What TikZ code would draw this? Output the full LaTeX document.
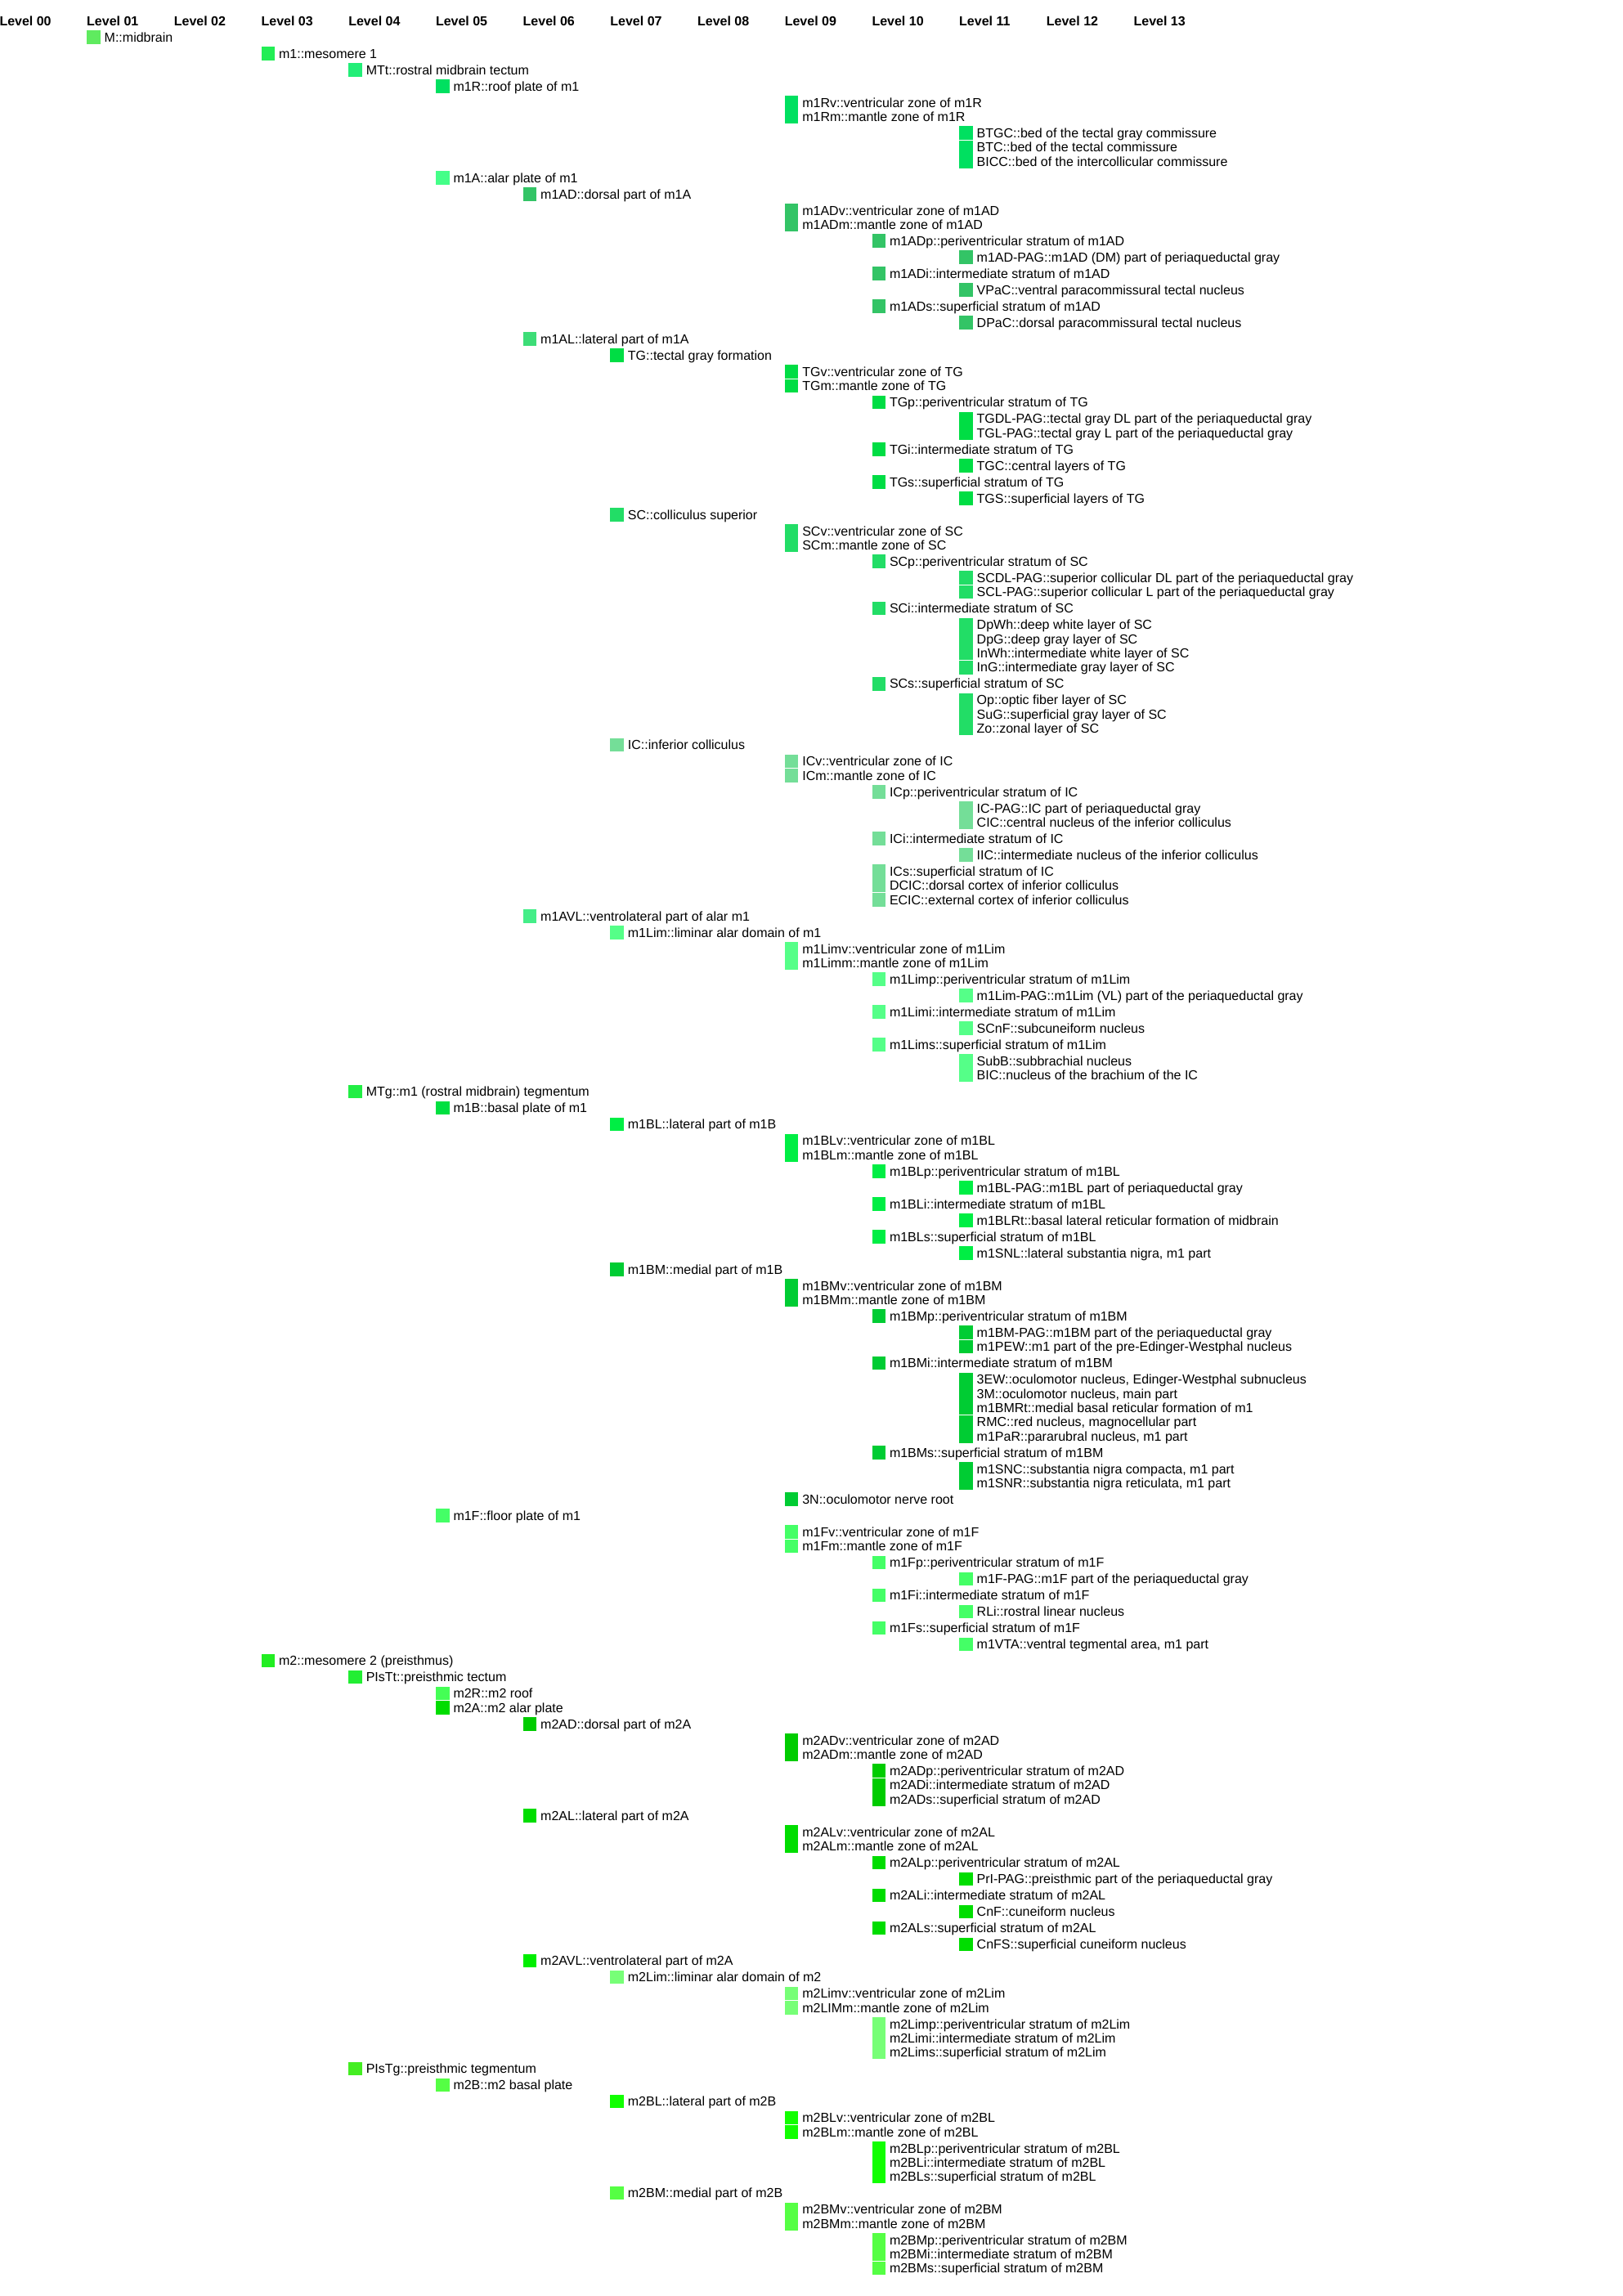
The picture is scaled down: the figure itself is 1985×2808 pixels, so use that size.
\documentclass[tikz,border=0pt]{standalone}
\usepackage{fontspec}
\setmainfont{Liberation Sans}
\newdimen\rowy
\global\rowy=25.3pt
\tikzset{
  boxst/.style={draw=none, inner sep=0pt, outer sep=0pt, minimum width=16.5pt},
  lbl/.style={anchor=base west, inner sep=0pt, outer sep=0pt, font=\fontsize{16}{19}\selectfont, text=black},
  hdr/.style={anchor=base west, inner sep=0pt, outer sep=0pt, font=\fontsize{16}{19}\selectfont\bfseries, text=black}
}
% #1 name, #2 level, #3 HTML colour, #4 n = new row, g = merged continuation, s = separate continuation, #5 text
\newcommand\itm[5]{%
  \if#4n\global\advance\rowy by 20pt\else\global\advance\rowy by 17.35pt\fi
  \pgfmathsetmacro\ry{\rowy}%
  \pgfmathsetmacro\bxx{106.7*#2-0.5}%
  \pgfmathsetmacro\txx{106.7*#2+21}%
  \definecolor{cur}{HTML}{#3}%
  \if#4g\pgfmathsetmacro\btt{\ry-9.1}\else\pgfmathsetmacro\btt{\ry-8.35}\fi
  \pgfmathsetmacro\bhh{\ry+8.35-\btt}%
  \node[boxst, fill=cur, minimum height=\bhh pt, anchor=north west] (t-#1b) at ({\bxx},{-\btt}) {};
  \node[lbl] (t-#1) at ({\txx},{-\ry-5.8}) {#5};
}
\begin{document}
\begin{tikzpicture}[x=1pt,y=1pt]
\fill[white] (0,0) rectangle (1985,-2808);
\useasboundingbox (0,0) rectangle (1985,-2808);
\foreach \i/\lab in {0/00,1/01,2/02,3/03,4/04,5/05,6/06,7/07,8/08,9/09,10/10,11/11,12/12,13/13}{
  \node[hdr] (h\lab) at ({106.7*\i-0.5},-31.5) {Level \lab};
}
\itm{M}{1}{5FEB5F}{n}{M::midbrain}
\itm{m1}{3}{22EE55}{n}{m1::mesomere 1}
\itm{MTt}{4}{22EE77}{n}{MTt::rostral midbrain tectum}
\itm{m1R}{5}{00E060}{n}{m1R::roof plate of m1}
\itm{m1Rv}{9}{00E060}{n}{m1Rv::ventricular zone of m1R}
\itm{m1Rm}{9}{00E060}{g}{m1Rm::mantle zone of m1R}
\itm{BTGC}{11}{00E060}{n}{BTGC::bed of the tectal gray commissure}
\itm{BTC}{11}{00E060}{s}{BTC::bed of the tectal commissure}
\itm{BICC}{11}{00E060}{g}{BICC::bed of the intercollicular commissure}
\itm{m1A}{5}{44FF88}{n}{m1A::alar plate of m1}
\itm{m1AD}{6}{33C466}{n}{m1AD::dorsal part of m1A}
\itm{m1ADv}{9}{33C466}{n}{m1ADv::ventricular zone of m1AD}
\itm{m1ADm}{9}{33C466}{g}{m1ADm::mantle zone of m1AD}
\itm{m1ADp}{10}{33C466}{n}{m1ADp::periventricular stratum of m1AD}
\itm{m1ADPAG}{11}{33C466}{n}{m1AD-PAG::m1AD (DM) part of periaqueductal gray}
\itm{m1ADi}{10}{33C466}{n}{m1ADi::intermediate stratum of m1AD}
\itm{VPaC}{11}{33C466}{n}{VPaC::ventral paracommissural tectal nucleus}
\itm{m1ADs}{10}{33C466}{n}{m1ADs::superficial stratum of m1AD}
\itm{DPaC}{11}{33C466}{n}{DPaC::dorsal paracommissural tectal nucleus}
\itm{m1AL}{6}{3DDD77}{n}{m1AL::lateral part of m1A}
\itm{TG}{7}{00DD44}{n}{TG::tectal gray formation}
\itm{TGv}{9}{00DD44}{n}{TGv::ventricular zone of TG}
\itm{TGm}{9}{00DD44}{s}{TGm::mantle zone of TG}
\itm{TGp}{10}{00DD44}{n}{TGp::periventricular stratum of TG}
\itm{TGDLPAG}{11}{00DD44}{n}{TGDL-PAG::tectal gray DL part of the periaqueductal gray}
\itm{TGLPAG}{11}{00DD44}{g}{TGL-PAG::tectal gray L part of the periaqueductal gray}
\itm{TGi}{10}{00DD44}{n}{TGi::intermediate stratum of TG}
\itm{TGC}{11}{00DD44}{n}{TGC::central layers of TG}
\itm{TGs}{10}{00DD44}{n}{TGs::superficial stratum of TG}
\itm{TGS}{11}{00DD44}{n}{TGS::superficial layers of TG}
\itm{SC}{7}{22DD66}{n}{SC::colliculus superior}
\itm{SCv}{9}{22DD66}{n}{SCv::ventricular zone of SC}
\itm{SCm}{9}{22DD66}{g}{SCm::mantle zone of SC}
\itm{SCp}{10}{22DD66}{n}{SCp::periventricular stratum of SC}
\itm{SCDLPAG}{11}{22DD66}{n}{SCDL-PAG::superior collicular DL part of the periaqueductal gray}
\itm{SCLPAG}{11}{22DD66}{s}{SCL-PAG::superior collicular L part of the periaqueductal gray}
\itm{SCi}{10}{22DD66}{n}{SCi::intermediate stratum of SC}
\itm{DpWh}{11}{22DD66}{n}{DpWh::deep white layer of SC}
\itm{DpG}{11}{22DD66}{g}{DpG::deep gray layer of SC}
\itm{InWh}{11}{22DD66}{g}{InWh::intermediate white layer of SC}
\itm{InG}{11}{22DD66}{s}{InG::intermediate gray layer of SC}
\itm{SCs}{10}{22DD66}{n}{SCs::superficial stratum of SC}
\itm{Op}{11}{22DD66}{n}{Op::optic fiber layer of SC}
\itm{SuG}{11}{22DD66}{g}{SuG::superficial gray layer of SC}
\itm{Zo}{11}{22DD66}{g}{Zo::zonal layer of SC}
\itm{IC}{7}{74DE98}{n}{IC::inferior colliculus}
\itm{ICv}{9}{74DE98}{n}{ICv::ventricular zone of IC}
\itm{ICm}{9}{74DE98}{s}{ICm::mantle zone of IC}
\itm{ICp}{10}{74DE98}{n}{ICp::periventricular stratum of IC}
\itm{ICPAG}{11}{74DE98}{n}{IC-PAG::IC part of periaqueductal gray}
\itm{CIC}{11}{74DE98}{g}{CIC::central nucleus of the inferior colliculus}
\itm{ICi}{10}{74DE98}{n}{ICi::intermediate stratum of IC}
\itm{IIC}{11}{74DE98}{n}{IIC::intermediate nucleus of the inferior colliculus}
\itm{ICs}{10}{74DE98}{n}{ICs::superficial stratum of IC}
\itm{DCIC}{10}{74DE98}{g}{DCIC::dorsal cortex of inferior colliculus}
\itm{ECIC}{10}{74DE98}{s}{ECIC::external cortex of inferior colliculus}
\itm{m1AVL}{6}{44EE88}{n}{m1AVL::ventrolateral part of alar m1}
\itm{m1Lim}{7}{55FF88}{n}{m1Lim::liminar alar domain of m1}
\itm{m1Limv}{9}{55FF88}{n}{m1Limv::ventricular zone of m1Lim}
\itm{m1Limm}{9}{55FF88}{g}{m1Limm::mantle zone of m1Lim}
\itm{m1Limp}{10}{55FF88}{n}{m1Limp::periventricular stratum of m1Lim}
\itm{m1LimPAG}{11}{55FF88}{n}{m1Lim-PAG::m1Lim (VL) part of the periaqueductal gray}
\itm{m1Limi}{10}{55FF88}{n}{m1Limi::intermediate stratum of m1Lim}
\itm{SCnF}{11}{55FF88}{n}{SCnF::subcuneiform nucleus}
\itm{m1Lims}{10}{55FF88}{n}{m1Lims::superficial stratum of m1Lim}
\itm{SubB}{11}{55FF88}{n}{SubB::subbrachial nucleus}
\itm{BIC}{11}{55FF88}{g}{BIC::nucleus of the brachium of the IC}
\itm{MTg}{4}{22EE44}{n}{MTg::m1 (rostral midbrain) tegmentum}
\itm{m1B}{5}{00E040}{n}{m1B::basal plate of m1}
\itm{m1BL}{7}{00EE44}{n}{m1BL::lateral part of m1B}
\itm{m1BLv}{9}{00EE44}{n}{m1BLv::ventricular zone of m1BL}
\itm{m1BLm}{9}{00EE44}{g}{m1BLm::mantle zone of m1BL}
\itm{m1BLp}{10}{00EE44}{n}{m1BLp::periventricular stratum of m1BL}
\itm{m1BLPAG}{11}{00EE44}{n}{m1BL-PAG::m1BL part of periaqueductal gray}
\itm{m1BLi}{10}{00EE44}{n}{m1BLi::intermediate stratum of m1BL}
\itm{m1BLRt}{11}{00EE44}{n}{m1BLRt::basal lateral reticular formation of midbrain}
\itm{m1BLs}{10}{00EE44}{n}{m1BLs::superficial stratum of m1BL}
\itm{m1SNL}{11}{00EE44}{n}{m1SNL::lateral substantia nigra, m1 part}
\itm{m1BM}{7}{00CC33}{n}{m1BM::medial part of m1B}
\itm{m1BMv}{9}{00CC33}{n}{m1BMv::ventricular zone of m1BM}
\itm{m1BMm}{9}{00CC33}{g}{m1BMm::mantle zone of m1BM}
\itm{m1BMp}{10}{00CC33}{n}{m1BMp::periventricular stratum of m1BM}
\itm{m1BMPAG}{11}{00CC33}{n}{m1BM-PAG::m1BM part of the periaqueductal gray}
\itm{m1PEW}{11}{00CC33}{s}{m1PEW::m1 part of the pre-Edinger-Westphal nucleus}
\itm{m1BMi}{10}{00CC33}{n}{m1BMi::intermediate stratum of m1BM}
\itm{3EW}{11}{00CC33}{n}{3EW::oculomotor nucleus, Edinger-Westphal subnucleus}
\itm{3M}{11}{00CC33}{g}{3M::oculomotor nucleus, main part}
\itm{m1BMRt}{11}{00CC33}{g}{m1BMRt::medial basal reticular formation of m1}
\itm{RMC}{11}{00CC33}{s}{RMC::red nucleus, magnocellular part}
\itm{m1PaR}{11}{00CC33}{g}{m1PaR::pararubral nucleus, m1 part}
\itm{m1BMs}{10}{00CC33}{n}{m1BMs::superficial stratum of m1BM}
\itm{m1SNC}{11}{00CC33}{n}{m1SNC::substantia nigra compacta, m1 part}
\itm{m1SNR}{11}{00CC33}{g}{m1SNR::substantia nigra reticulata, m1 part}
\itm{3N}{9}{00CC33}{n}{3N::oculomotor nerve root}
\itm{m1F}{5}{44FF66}{n}{m1F::floor plate of m1}
\itm{m1Fv}{9}{44FF66}{n}{m1Fv::ventricular zone of m1F}
\itm{m1Fm}{9}{44FF66}{s}{m1Fm::mantle zone of m1F}
\itm{m1Fp}{10}{44FF66}{n}{m1Fp::periventricular stratum of m1F}
\itm{m1FPAG}{11}{44FF66}{n}{m1F-PAG::m1F part of the periaqueductal gray}
\itm{m1Fi}{10}{44FF66}{n}{m1Fi::intermediate stratum of m1F}
\itm{RLi}{11}{44FF66}{n}{RLi::rostral linear nucleus}
\itm{m1Fs}{10}{44FF66}{n}{m1Fs::superficial stratum of m1F}
\itm{m1VTA}{11}{44FF66}{n}{m1VTA::ventral tegmental area, m1 part}
\itm{m2}{3}{22EE22}{n}{m2::mesomere 2 (preisthmus)}
\itm{PIsTt}{4}{22EE33}{n}{PIsTt::preisthmic tectum}
\itm{m2R}{5}{44FF55}{n}{m2R::m2 roof}
\itm{m2A}{5}{00DD00}{s}{m2A::m2 alar plate}
\itm{m2AD}{6}{00CC00}{n}{m2AD::dorsal part of m2A}
\itm{m2ADv}{9}{00CC00}{n}{m2ADv::ventricular zone of m2AD}
\itm{m2ADm}{9}{00CC00}{g}{m2ADm::mantle zone of m2AD}
\itm{m2ADp}{10}{00CC00}{n}{m2ADp::periventricular stratum of m2AD}
\itm{m2ADi}{10}{00CC00}{s}{m2ADi::intermediate stratum of m2AD}
\itm{m2ADs}{10}{00CC00}{g}{m2ADs::superficial stratum of m2AD}
\itm{m2AL}{6}{00DD00}{n}{m2AL::lateral part of m2A}
\itm{m2ALv}{9}{00DD00}{n}{m2ALv::ventricular zone of m2AL}
\itm{m2ALm}{9}{00DD00}{g}{m2ALm::mantle zone of m2AL}
\itm{m2ALp}{10}{00DD00}{n}{m2ALp::periventricular stratum of m2AL}
\itm{PrIPAG}{11}{00DD00}{n}{PrI-PAG::preisthmic part of the periaqueductal gray}
\itm{m2ALi}{10}{00DD00}{n}{m2ALi::intermediate stratum of m2AL}
\itm{CnF}{11}{00DD00}{n}{CnF::cuneiform nucleus}
\itm{m2ALs}{10}{00DD00}{n}{m2ALs::superficial stratum of m2AL}
\itm{CnFS}{11}{00DD00}{n}{CnFS::superficial cuneiform nucleus}
\itm{m2AVL}{6}{00EE00}{n}{m2AVL::ventrolateral part of m2A}
\itm{m2Lim}{7}{77FF77}{n}{m2Lim::liminar alar domain of m2}
\itm{m2Limv}{9}{77FF77}{n}{m2Limv::ventricular zone of m2Lim}
\itm{m2LIMm}{9}{77FF77}{s}{m2LIMm::mantle zone of m2Lim}
\itm{m2Limp}{10}{77FF77}{n}{m2Limp::periventricular stratum of m2Lim}
\itm{m2Limi}{10}{77FF77}{g}{m2Limi::intermediate stratum of m2Lim}
\itm{m2Lims}{10}{77FF77}{g}{m2Lims::superficial stratum of m2Lim}
\itm{PIsTg}{4}{44EE22}{n}{PIsTg::preisthmic tegmentum}
\itm{m2B}{5}{55FF44}{n}{m2B::m2 basal plate}
\itm{m2BL}{7}{11FF00}{n}{m2BL::lateral part of m2B}
\itm{m2BLv}{9}{11FF00}{n}{m2BLv::ventricular zone of m2BL}
\itm{m2BLm}{9}{11FF00}{s}{m2BLm::mantle zone of m2BL}
\itm{m2BLp}{10}{11FF00}{n}{m2BLp::periventricular stratum of m2BL}
\itm{m2BLi}{10}{11FF00}{g}{m2BLi::intermediate stratum of m2BL}
\itm{m2BLs}{10}{11FF00}{g}{m2BLs::superficial stratum of m2BL}
\itm{m2BM}{7}{55FF44}{n}{m2BM::medial part of m2B}
\itm{m2BMv}{9}{55FF44}{n}{m2BMv::ventricular zone of m2BM}
\itm{m2BMm}{9}{55FF44}{g}{m2BMm::mantle zone of m2BM}
\itm{m2BMp}{10}{55FF44}{n}{m2BMp::periventricular stratum of m2BM}
\itm{m2BMi}{10}{55FF44}{g}{m2BMi::intermediate stratum of m2BM}
\itm{m2BMs}{10}{55FF44}{s}{m2BMs::superficial stratum of m2BM}
\end{tikzpicture}
\end{document}
